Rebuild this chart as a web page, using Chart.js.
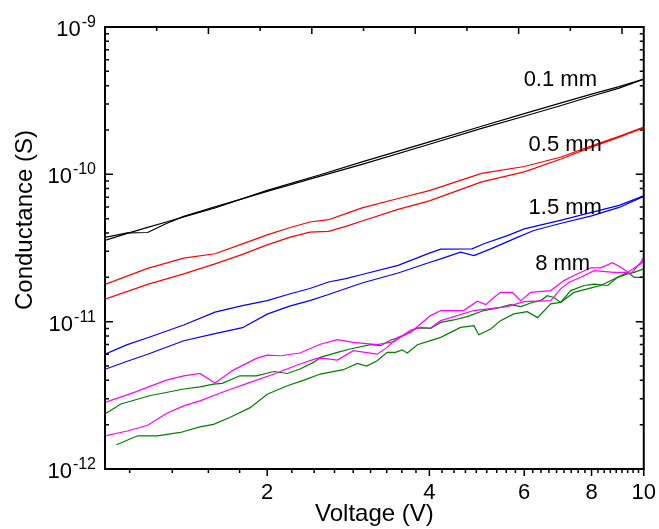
<!DOCTYPE html>
<html>
<head>
<meta charset="utf-8">
<title>Conductance vs voltage</title>
<script src="https://cdn.jsdelivr.net/npm/chart.js@4.4.1/dist/chart.umd.min.js"></script>
<style>
  html, body { margin: 0; padding: 0; background: #fff; }
  canvas { display: block; }
</style>
</head>
<body>
<canvas id="chart" width="659" height="529"></canvas>
<script>
// Axis ticks / labels
const xTickValues = [2, 4, 6, 8, 10];
const xTickLabels = ['2', '4', '6', '8', '10'];
const xMinorStep = 2 / 9;          // minor ticks of the original plot
const yTickValues = [1e-12, 1e-11, 1e-10, 1e-9];
const yTickBase = '10';
const yTickExponents = ['-12', '-11', '-10', '-9'];
const xTitle = 'Voltage (V)';
const yTitle = 'Conductance (S)';

// Curve labels
const curveLabels = ['0.1 mm', '0.5 mm', '1.5 mm', '8 mm'];
const curveLabelV = [7.0, 7.15, 7.15, 7.07];
const curveLabelG = [4.36e-10, 1.575e-10, 5.87e-11, 2.48e-11];

// 0.1 mm (black)
const blackV = [1, 1.1, 1.2, 1.3, 1.4, 1.6, 2, 2.5, 3, 4, 5, 6, 7, 8, 9, 10];
const blackA = [3.73e-11, 4.0e-11, 4.03e-11, 4.64e-11, 5.18e-11, 6.01e-11, 7.66e-11, 9.69e-11, 1.169e-10, 1.60e-10, 2.05e-10, 2.48e-10, 2.92e-10, 3.39e-10, 3.85e-10, 4.43e-10];
const blackB = [3.56e-11, 3.97e-11, 4.36e-11, 4.75e-11, 5.14e-11, 5.91e-11, 7.78e-11, 9.9e-11, 1.216e-10, 1.66e-10, 2.12e-10, 2.58e-10, 3.04e-10, 3.50e-10, 3.94e-10, 4.43e-10];

// 0.5 mm (red)
const redV = [1, 1.2, 1.4, 1.6, 1.8, 2, 2.2, 2.4, 2.6, 2.8, 3, 3.5, 4, 5, 6, 7, 8, 9, 10];
const redA = [1.79e-11, 2.30e-11, 2.70e-11, 2.89e-11, 3.37e-11, 3.88e-11, 4.34e-11, 4.75e-11, 4.92e-11, 5.41e-11, 5.92e-11, 6.85e-11, 7.75e-11, 1.016e-10, 1.13e-10, 1.305e-10, 1.56e-10, 1.81e-10, 2.09e-10];
const redB = [1.42e-11, 1.79e-11, 2.11e-11, 2.47e-11, 2.86e-11, 3.32e-11, 3.73e-11, 4.05e-11, 4.10e-11, 4.43e-11, 4.82e-11, 5.78e-11, 6.61e-11, 8.88e-11, 1.04e-10, 1.265e-10, 1.53e-10, 1.79e-10, 2.07e-10];

// 1.5 mm (blue)
const blueAV = [1, 1.1, 1.2, 1.4, 1.6, 1.8, 2, 2.2, 2.4, 2.6, 2.8, 3, 3.5, 4, 4.2, 4.8, 5.05, 5.6, 6, 7, 8, 9, 10];
const blueA = [6.01e-12, 6.98e-12, 7.78e-12, 9.5e-12, 1.16e-11, 1.285e-11, 1.39e-11, 1.54e-11, 1.68e-11, 1.86e-11, 1.96e-11, 2.09e-11, 2.41e-11, 2.92e-11, 3.11e-11, 3.12e-11, 3.38e-11, 3.85e-11, 4.26e-11, 4.87e-11, 5.52e-11, 6.16e-11, 7.14e-11];
const blueBV = [1, 1.1, 1.2, 1.4, 1.6, 1.8, 2, 2.2, 2.4, 2.6, 2.8, 3, 3.5, 4, 4.2, 4.57, 4.84, 5.2, 5.84, 6.25, 7, 8, 9, 10];
const blueB = [4.75e-12, 5.39e-12, 6.01e-12, 7.42e-12, 8.29e-12, 9.1e-12, 1.125e-11, 1.275e-11, 1.39e-11, 1.53e-11, 1.68e-11, 1.83e-11, 2.14e-11, 2.52e-11, 2.67e-11, 2.96e-11, 2.81e-11, 3.12e-11, 3.75e-11, 4.16e-11, 4.64e-11, 5.22e-11, 5.96e-11, 7.09e-11];

// 8 mm (magenta + green)
const magentaAV = [1.0, 1.13, 1.30, 1.40, 1.50, 1.60, 1.73, 1.91, 2.0, 2.12, 2.30, 2.51, 2.70, 2.89, 3.20, 3.44, 3.69, 3.85, 4.02, 4.20, 4.84, 5.58, 5.99, 6.72, 7.01, 7.27, 7.64, 8.09, 8.81, 9.33, 9.87, 10];
const magentaA = [2.83e-12, 3.30e-12, 4.01e-12, 4.29e-12, 4.45e-12, 3.83e-12, 4.69e-12, 5.63e-12, 5.93e-12, 5.87e-12, 6.13e-12, 7.03e-12, 7.55e-12, 7.23e-12, 6.98e-12, 7.32e-12, 8.78e-12, 9.15e-12, 9.06e-12, 1.016e-11, 1.19e-11, 1.265e-11, 1.368e-11, 1.39e-11, 1.67e-11, 1.85e-11, 2.0e-11, 2.22e-11, 2.16e-11, 2.16e-11, 2.47e-11, 2.60e-11];
const magentaBV = [1.0, 1.10, 1.20, 1.30, 1.40, 1.50, 1.68, 1.86, 2.06, 2.30, 2.48, 2.55, 2.70, 2.89, 3.20, 3.34, 3.49, 3.69, 3.85, 4.02, 4.20, 4.63, 4.91, 5.09, 5.27, 5.42, 5.70, 5.91, 6.17, 6.72, 7.11, 7.42, 7.97, 8.32, 8.75, 9.06, 9.46, 9.87, 10];
const magentaB = [1.68e-12, 1.81e-12, 1.98e-12, 2.38e-12, 2.68e-12, 2.90e-12, 3.40e-12, 3.87e-12, 4.41e-12, 5.16e-12, 5.65e-12, 5.63e-12, 5.49e-12, 6.35e-12, 6.02e-12, 6.69e-12, 7.82e-12, 8.46e-12, 9.65e-12, 1.099e-11, 1.19e-11, 1.19e-11, 1.375e-11, 1.305e-11, 1.46e-11, 1.58e-11, 1.58e-11, 1.39e-11, 1.58e-11, 1.625e-11, 1.90e-11, 2.056e-11, 2.32e-11, 2.32e-11, 2.51e-11, 2.34e-11, 2.11e-11, 2.53e-11, 2.74e-11];
const greenAV = [1.0, 1.07, 1.21, 1.40, 1.50, 1.59, 1.65, 1.78, 1.91, 2.06, 2.18, 2.30, 2.44, 2.51, 2.70, 2.85, 3.11, 3.25, 3.39, 3.53, 3.80, 4.02, 4.20, 4.44, 4.70, 5.05, 5.42, 5.66, 5.91, 6.21, 6.44, 6.62, 6.81, 7.01, 7.32, 7.75, 8.09, 8.57, 8.94, 9.33, 9.60, 10];
const greenA = [2.36e-12, 2.76e-12, 3.14e-12, 3.49e-12, 3.61e-12, 3.77e-12, 3.81e-12, 4.29e-12, 4.29e-12, 4.59e-12, 4.45e-12, 4.77e-12, 5.29e-12, 5.72e-12, 6.19e-12, 6.52e-12, 6.98e-12, 6.87e-12, 7.51e-12, 7.82e-12, 9.06e-12, 9.0e-12, 9.89e-12, 1.027e-11, 1.081e-11, 1.19e-11, 1.25e-11, 1.305e-11, 1.265e-11, 1.35e-11, 1.39e-11, 1.50e-11, 1.46e-11, 1.35e-11, 1.625e-11, 1.76e-11, 1.80e-11, 1.76e-11, 2.0e-11, 2.11e-11, 2.16e-11, 2.28e-11];
const greenBV = [1.05, 1.15, 1.25, 1.38, 1.50, 1.59, 1.70, 1.86, 2.0, 2.18, 2.34, 2.51, 2.77, 2.94, 3.06, 3.20, 3.34, 3.46, 3.56, 3.64, 3.80, 4.02, 4.20, 4.57, 4.84, 4.94, 5.20, 5.42, 5.74, 6.08, 6.35, 6.72, 7.01, 7.42, 7.86, 8.32, 8.81, 9.33, 9.60, 10];
const greenB = [1.46e-12, 1.68e-12, 1.68e-12, 1.77e-12, 1.93e-12, 2.01e-12, 2.23e-12, 2.61e-12, 3.22e-12, 3.67e-12, 4.01e-12, 4.41e-12, 4.72e-12, 5.21e-12, 5.0e-12, 5.43e-12, 6.19e-12, 6.19e-12, 6.44e-12, 6.13e-12, 6.98e-12, 7.43e-12, 7.82e-12, 9.15e-12, 9.4e-12, 8.16e-12, 8.92e-12, 1.016e-11, 1.13e-11, 1.169e-11, 1.065e-11, 1.32e-11, 1.35e-11, 1.58e-11, 1.67e-11, 1.76e-11, 1.95e-11, 2.16e-11, 2.0e-11, 2.0e-11];

const FONT = "'Liberation Sans', Arial, Helvetica, sans-serif";
Chart.defaults.font.family = FONT;
Chart.defaults.color = '#000';

function pts(vs, gs) {
  return vs.map((v, i) => ({ x: v, y: gs[i] }));
}

function series(vs, gs, color) {
  return {
    data: pts(vs, gs),
    borderColor: color,
    borderWidth: 1.2,
    pointRadius: 0,
    tension: 0,
    fill: false,
    xAxisID: 'x',
    yAxisID: 'y'
  };
}

// Frame, ticks, y labels with exponents, y title and curve labels
const axisDecor = {
  id: 'axisDecor',
  afterDatasetsDraw(chart) {
    const { ctx, chartArea: a, scales } = chart;
    const x = scales.x, y = scales.y, xTop = scales.xTop;
    ctx.save();
    ctx.strokeStyle = '#000';
    ctx.lineWidth = 2;
    ctx.strokeRect(a.left, a.top, a.right - a.left, a.bottom - a.top);

    ctx.lineWidth = 1.5;
    ctx.beginPath();
    // left and right: log ticks, inward
    for (let e = -12; e <= -9; e++) {
      for (let m = 1; m <= 9; m++) {
        if (e === -9 && m > 1) break;
        const py = y.getPixelForValue(m * Math.pow(10, e));
        const len = m === 1 ? 8 : 4;
        ctx.moveTo(a.left, py); ctx.lineTo(a.left + len, py);
        ctx.moveTo(a.right, py); ctx.lineTo(a.right - len, py);
      }
    }
    // bottom: outward
    for (let n = 5; n <= 45; n++) {
      const px = x.getPixelForValue(n * xMinorStep);
      const len = n % 9 === 0 ? 7 : 4;
      ctx.moveTo(px, a.bottom); ctx.lineTo(px, a.bottom + len);
    }
    // top: evenly spaced, inward
    for (let k = 1; k <= 10; k++) {
      const px = xTop.getPixelForValue(k);
      const len = k % 2 === 0 ? 7 : 4;
      ctx.moveTo(px, a.top); ctx.lineTo(px, a.top + len);
    }
    ctx.stroke();

    ctx.fillStyle = '#000';

    // y tick labels: 10 with raised exponent
    ctx.textBaseline = 'alphabetic';
    yTickValues.forEach((v, i) => {
      const py = y.getPixelForValue(v);
      const right = a.left - 9;
      ctx.font = '16px ' + FONT;
      const expW = ctx.measureText(yTickExponents[i]).width;
      ctx.textAlign = 'right';
      ctx.fillText(yTickExponents[i], right, py);
      ctx.font = '22px ' + FONT;
      ctx.fillText(yTickBase, right - expW - 1, py + 9);
    });

    // curve labels
    ctx.font = '22px ' + FONT;
    ctx.textAlign = 'center';
    ctx.textBaseline = 'middle';
    curveLabels.forEach((t, i) => {
      ctx.fillText(t, x.getPixelForValue(curveLabelV[i]), y.getPixelForValue(curveLabelG[i]));
    });

    // y axis title
    ctx.font = '24px ' + FONT;
    ctx.translate(25, 220);
    ctx.rotate(-Math.PI / 2);
    ctx.fillText(yTitle, 0, 0);
    ctx.restore();
  }
};

new Chart(document.getElementById('chart'), {
  type: 'line',
  data: {
    datasets: [
      series(blackV, blackA, '#000000'),
      series(blackV, blackB, '#000000'),
      series(redV, redA, '#ff0000'),
      series(redV, redB, '#ff0000'),
      series(blueAV, blueA, '#0000ff'),
      series(blueBV, blueB, '#0000ff'),
      series(magentaAV, magentaA, '#ff00ff'),
      series(magentaBV, magentaB, '#ff00ff'),
      series(greenAV, greenA, '#008000'),
      series(greenBV, greenB, '#008000')
    ]
  },
  options: {
    responsive: false,
    animation: false,
    layout: { padding: { top: 27, right: 15, left: 0, bottom: 0 } },
    plugins: {
      legend: { display: false },
      tooltip: { enabled: false }
    },
    scales: {
      x: {
        type: 'logarithmic',
        position: 'bottom',
        min: 1,
        max: 10,
        grid: { display: false },
        border: { display: false },
        afterBuildTicks: s => { s.ticks = xTickValues.map(v => ({ value: v })); },
        afterFit: s => { s.height = 60; },
        ticks: {
          autoSkip: false,
          maxRotation: 0,
          padding: 3,
          font: { size: 22 },
          color: '#000',
          callback: (v, i) => xTickLabels[i]
        },
        title: {
          display: true,
          text: xTitle,
          font: { size: 24 },
          color: '#000',
          padding: 0
        }
      },
      xTop: {
        type: 'linear',
        position: 'top',
        min: 0,
        max: 10.42,
        grid: { display: false },
        border: { display: false },
        ticks: { display: false },
        afterFit: s => { s.height = 0; }
      },
      y: {
        type: 'logarithmic',
        position: 'left',
        min: 1e-12,
        max: 1e-9,
        grid: { display: false },
        border: { display: false },
        afterBuildTicks: s => { s.ticks = yTickValues.map(v => ({ value: v })); },
        afterFit: s => { s.width = 105; },
        ticks: {
          display: false,
          autoSkip: false,
          callback: (v, i) => yTickBase + yTickExponents[i]
        }
      }
    }
  },
  plugins: [axisDecor]
});
</script>
</body>
</html>
